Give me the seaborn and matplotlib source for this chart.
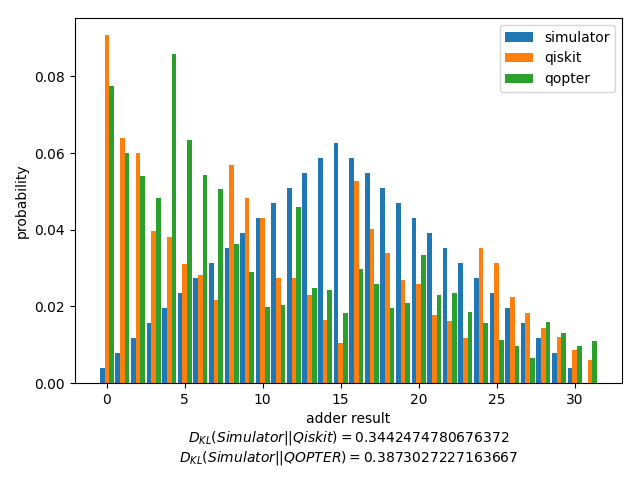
import matplotlib
matplotlib.use('Agg')
import matplotlib.pyplot as plt
import seaborn as sns
import pandas as pd

# adder results 0..31
results = list(range(32))
# probability of each result
simulator = [0.0039, 0.0078, 0.0117, 0.0156, 0.0195, 0.0234, 0.0273, 0.0313,
             0.0352, 0.0391, 0.0430, 0.0469, 0.0508, 0.0547, 0.0586, 0.0625,
             0.0586, 0.0547, 0.0508, 0.0469, 0.0430, 0.0391, 0.0352, 0.0313,
             0.0273, 0.0234, 0.0195, 0.0156, 0.0117, 0.0078, 0.0039, 0.0]
qiskit = [0.0907, 0.0638, 0.0601, 0.0397, 0.0382, 0.0311, 0.0282, 0.0217,
          0.0570, 0.0484, 0.0431, 0.0275, 0.0275, 0.0230, 0.0165, 0.0105,
          0.0528, 0.0403, 0.0340, 0.0269, 0.0259, 0.0178, 0.0162, 0.0118,
          0.0353, 0.0314, 0.0225, 0.0183, 0.0144, 0.0120, 0.0086, 0.0060]
qopter = [0.0776, 0.0601, 0.0539, 0.0484, 0.0858, 0.0633, 0.0544, 0.0507,
          0.0363, 0.0290, 0.0199, 0.0204, 0.0458, 0.0248, 0.0243, 0.0183,
          0.0298, 0.0259, 0.0196, 0.0209, 0.0335, 0.0230, 0.0235, 0.0186,
          0.0157, 0.0112, 0.0097, 0.0065, 0.0159, 0.0131, 0.0097, 0.0110]
kl_qiskit = '0.3442474780676372'
kl_qopter = '0.3873027227163667'

# long-form table for seaborn
df = pd.concat([
    pd.DataFrame({'result': results, 'probability': simulator, 'source': 'simulator'}),
    pd.DataFrame({'result': results, 'probability': qiskit, 'source': 'qiskit'}),
    pd.DataFrame({'result': results, 'probability': qopter, 'source': 'qopter'}),
])

fig, ax = plt.subplots(figsize=(6.4, 4.8), dpi=100)
sns.barplot(data=df, x='result', y='probability', hue='source',
            native_scale=True, width=0.9, saturation=1, errorbar=None,
            palette=['#1f77b4', '#ff7f0e', '#2ca02c'], ax=ax)
sns.move_legend(ax, 'upper right', title=None)
ax.set_xlim(-2.05, 33.05)
ax.set_xlabel('adder result\n'
              r'$D_{KL}(Simulator||Qiskit) = ' + kl_qiskit + '$\n'
              r'$D_{KL}(Simulator||QOPTER) = ' + kl_qopter + '$')
ax.set_ylabel('probability')
fig.subplots_adjust(left=0.117, right=0.972, top=0.9625, bottom=0.202)
plt.savefig('out.png')
